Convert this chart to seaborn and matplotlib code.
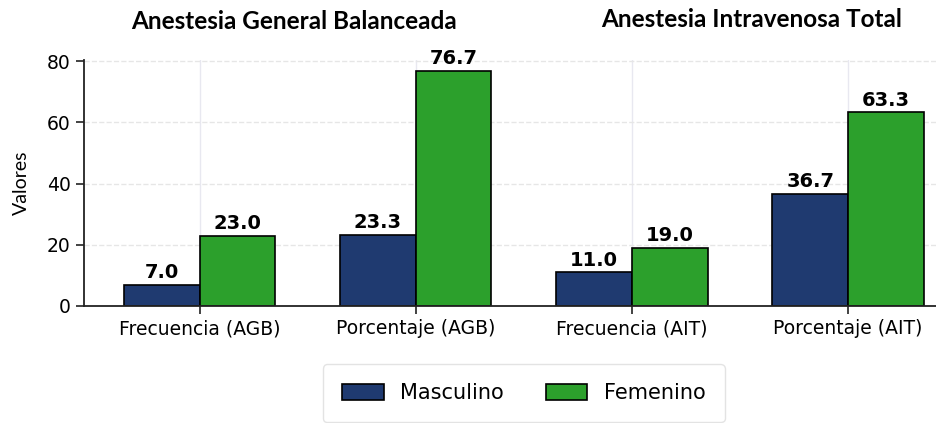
import pandas as pd
import matplotlib
matplotlib.use("Agg")
import matplotlib.pyplot as plt
import seaborn as sns

# =========================
# DATA
# =========================
categorias = ["Frecuencia (AGB)", "Porcentaje (AGB)", "Frecuencia (AIT)", "Porcentaje (AIT)"]
masculino = [7.0, 23.3, 11.0, 36.7]
femenino = [23.0, 76.7, 19.0, 63.3]
sexos = ["Masculino", "Femenino"]
colores = ["#1f3a70", "#2ca02c"]

df = pd.DataFrame({
    "Categoria": categorias * 2,
    "Valor": masculino + femenino,
    "Sexo": [sexos[0]] * len(categorias) + [sexos[1]] * len(categorias),
})

# =========================
# PLOT
# =========================
sns.set_theme(style="whitegrid")
plt.rcParams["font.family"] = "sans-serif"
plt.rcParams["font.sans-serif"] = ["DejaVu Sans"]
plt.rcParams["text.color"] = "black"
plt.rcParams["axes.labelcolor"] = "black"
plt.rcParams["xtick.color"] = "black"
plt.rcParams["ytick.color"] = "black"

fig = plt.figure(figsize=(9.36, 4.23), dpi=100)
ax = fig.add_axes([0.0897, 0.2766, 0.94, 0.5824])

sns.barplot(data=df, x="Categoria", y="Valor", hue="Sexo", palette=colores,
            width=0.7, edgecolor="black", linewidth=1.2, ax=ax, saturation=1)

for cont in ax.containers:
    ax.bar_label(cont, fmt="%.1f", padding=2, fontsize=14, fontweight="bold",
                 color="black")

ax.set_xlim(-0.535, 3.535)
ax.set_ylim(0, 80.5)
ax.set_yticks([0, 20, 40, 60, 80])
ax.set_xlabel("")
ax.set_ylabel("Valores", fontsize=14, labelpad=12, family=["Lato", "DejaVu Sans"])
ax.tick_params(axis="both", labelsize=13.5, length=6, width=1.2, color="#222222",
               bottom=True, left=True)
ax.yaxis.grid(True, linestyle="--", color="#e6e6e6", linewidth=1)
ax.xaxis.grid(True, linestyle="-", color="#e8e8f0", linewidth=1)
ax.set_axisbelow(True)
sns.despine(ax=ax)
for s in ["left", "bottom"]:
    ax.spines[s].set_color("#222222")
    ax.spines[s].set_linewidth(1.3)

leg = ax.legend(loc="upper center", bbox_to_anchor=(0.5, -0.195), ncol=2,
                fontsize=15, frameon=True, handlelength=2.0, handleheight=0.75,
                handletextpad=0.8, columnspacing=2.0, borderpad=0.9)
leg.get_frame().set_edgecolor("#dddddd")

# Títulos
fig.text(0.314, 0.950, "Anestesia General Balanceada", ha="center", va="center",
         fontsize=17.5, fontweight="bold", family=["Lato", "DejaVu Sans"])
fig.text(0.803, 0.953, "Anestesia Intravenosa Total", ha="center", va="center",
         fontsize=17.5, fontweight="bold", family=["Lato", "DejaVu Sans"])

fig.savefig("out.png", dpi=100)
plt.close()
